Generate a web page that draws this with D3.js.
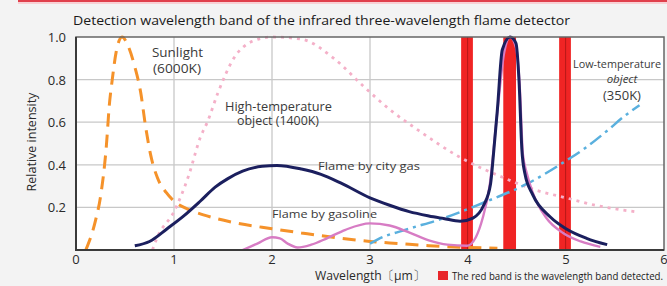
<!DOCTYPE html>
<html>
<head>
<meta charset="utf-8">
<script src="https://cdn.jsdelivr.net/npm/d3@7"></script>
<style>
  html, body { margin: 0; padding: 0; background: #f3f3f3; }
  svg { display: block; font-family: "Open Sans", sans-serif; }
</style>
</head>
<body>
<svg id="chart"></svg>
<script>
// Sunlight (6000K), orange dashed
const sunlight = [[0.1,0],[0.2,0.14],[0.25,0.25],[0.31,0.49],[0.34,0.68],[0.37,0.8],[0.41,0.93],[0.47,1.0],[0.53,0.96],[0.6,0.86],[0.66,0.74],[0.71,0.58],[0.76,0.45],[0.83,0.34],[0.92,0.27],[1.0,0.23],[1.15,0.19],[1.3,0.165],[1.6,0.13],[2.0,0.1],[2.3,0.08],[2.7,0.055],[3.0,0.04],[3.3,0.03],[3.6,0.02],[4.0,0.012],[4.3,0.008]];

// High-temperature object (1400K), pink dotted
const highTemp = [[0.78,0],[0.83,0.06],[1.0,0.18],[1.15,0.35],[1.27,0.53],[1.34,0.6],[1.45,0.74],[1.61,0.9],[1.8,0.98],[2.0,1.0],[2.3,0.99],[2.63,0.9],[2.93,0.77],[3.2,0.66],[3.5,0.56],[3.9,0.44],[4.36,0.34],[4.7,0.28],[5.0,0.245],[5.3,0.21],[5.7,0.18]];

// Low-temperature object (350K), blue dash-dot
const lowTemp = [[3.0,0.03],[3.08,0.05],[3.4,0.1],[3.69,0.14],[4.2,0.23],[4.6,0.31],[4.97,0.41],[5.2,0.48],[5.42,0.56],[5.6,0.63],[5.75,0.68]];

// Flame by gasoline
const gasoline = [[1.7,0],[1.85,0.03],[2.0,0.06],[2.08,0.055],[2.16,0.03],[2.26,0.012],[2.4,0.025],[2.56,0.055],[2.75,0.095],[3.0,0.125],[3.2,0.115],[3.41,0.08],[3.6,0.045],[3.79,0.025],[3.99,0.02],[4.08,0.06],[4.15,0.15],[4.22,0.3],[4.3,0.65],[4.37,0.93],[4.43,1.0],[4.49,0.95],[4.53,0.75],[4.56,0.45],[4.6,0.36],[4.66,0.27],[4.8,0.15],[4.97,0.08],[5.15,0.04],[5.35,0.015]];

// Flame by city gas
const cityGas = [[0.6,0.02],[0.75,0.04],[0.93,0.1],[1.1,0.16],[1.27,0.23],[1.42,0.295],[1.55,0.335],[1.7,0.37],[1.9,0.393],[2.05,0.397],[2.3,0.38],[2.5,0.355],[2.7,0.315],[3.0,0.245],[3.2,0.21],[3.4,0.18],[3.6,0.16],[3.75,0.148],[3.92,0.135],[4.05,0.15],[4.16,0.21],[4.23,0.31],[4.26,0.45],[4.3,0.66],[4.35,0.94],[4.43,1.0],[4.49,0.97],[4.52,0.8],[4.55,0.47],[4.58,0.36],[4.66,0.26],[4.84,0.155],[5.0,0.1],[5.21,0.055],[5.42,0.025]];

// detected bands (µm)
const bandStart = [3.93, 4.36, 4.93];
const bandEnd = [4.05, 4.49, 5.05];
const bandLine = [true, false, true];

const xTicks = [0, 1, 2, 3, 4, 5, 6];
const yTicks = [0.2, 0.4, 0.6, 0.8, 1.0];

const W = 667, H = 286;
const margin = { top: 37, right: 3, bottom: 36, left: 76 };

const svg = d3.select("#chart").attr("width", W).attr("height", H);

// page background + red top rule
svg.append("rect").attr("width", W).attr("height", H).attr("fill", "#f3f3f3");
svg.append("rect").attr("x", 18).attr("y", 0).attr("width", W - 18).attr("height", 2).attr("fill", "#e0404c");
svg.append("rect").attr("x", 18).attr("y", 2).attr("width", W - 18).attr("height", 2).attr("fill", "#f8d0d4");

const x = d3.scaleLinear().domain([0, 6]).range([margin.left, W - margin.right]);
const y = d3.scaleLinear().domain([0, 1]).range([H - margin.bottom, margin.top]);

// plot area
svg.append("rect")
  .attr("x", x(0)).attr("y", y(1))
  .attr("width", x(6) - x(0)).attr("height", y(0) - y(1))
  .attr("fill", "#fff");

// grid
svg.append("g").selectAll("line")
  .data(xTicks.slice(1, -1))
  .join("line")
  .attr("x1", d => x(d)).attr("x2", d => x(d))
  .attr("y1", y(0)).attr("y2", y(1))
  .attr("stroke", "#c8c8c8").attr("stroke-width", 1.3);
svg.append("g").selectAll("line")
  .data(yTicks.slice(0, -1))
  .join("line")
  .attr("x1", x(0)).attr("x2", x(6))
  .attr("y1", d => y(d)).attr("y2", d => y(d))
  .attr("stroke", "#c8c8c8").attr("stroke-width", 1.3);

// red bands
const bands = svg.append("g");
bands.selectAll("rect")
  .data(bandStart)
  .join("rect")
  .attr("x", d => x(d))
  .attr("y", y(1))
  .attr("width", (d, i) => x(bandEnd[i]) - x(d))
  .attr("height", y(0) - y(1))
  .attr("fill", "#f02424");
bands.selectAll("line")
  .data(bandStart.filter((d, i) => bandLine[i]))
  .join("line")
  .attr("x1", d => x(d) + (x(bandEnd[0]) - x(bandStart[0])) * 0.55)
  .attr("x2", d => x(d) + (x(bandEnd[0]) - x(bandStart[0])) * 0.55)
  .attr("y1", y(1)).attr("y2", y(0))
  .attr("stroke", "#b81818").attr("stroke-width", 1);

const line = d3.line()
  .x(d => x(d[0]))
  .y(d => y(d[1]))
  .curve(d3.curveMonotoneX);

function drawSeries(data, color, width, dash) {
  svg.append("path")
    .datum(data)
    .attr("d", line)
    .attr("fill", "none")
    .attr("stroke", color)
    .attr("stroke-width", width)
    .attr("stroke-linecap", "butt")
    .attr("stroke-dasharray", dash);
}

drawSeries(highTemp, "#f4b0c8", 2.8, "3,5");
drawSeries(sunlight, "#f5922a", 3, "13,8");
drawSeries(lowTemp, "#5ab0de", 2.5, "14,5,3,5");
drawSeries(gasoline, "#d77cc4", 2.4, null);
drawSeries(cityGas, "#1b1f5e", 3, null);

// frame
svg.append("rect")
  .attr("x", x(0)).attr("y", y(1))
  .attr("width", x(6) - x(0)).attr("height", y(0) - y(1))
  .attr("fill", "none").attr("stroke", "#666").attr("stroke-width", 1.5);
svg.append("path")
  .attr("d", `M${x(0)},${y(1)}V${y(0)}H${x(6)}`)
  .attr("fill", "none").attr("stroke", "#3a3a3a").attr("stroke-width", 2);

// axes text
svg.append("g").selectAll("text")
  .data(yTicks)
  .join("text")
  .attr("x", 66).attr("y", d => y(d) + 5)
  .attr("text-anchor", "end")
  .attr("font-size", 13).attr("fill", "#2a2a2a")
  .text(d => d.toFixed(1));
svg.append("g").selectAll("text")
  .data(xTicks)
  .join("text")
  .attr("x", d => x(d)).attr("y", 264)
  .attr("text-anchor", "middle")
  .attr("font-size", 13).attr("fill", "#2a2a2a")
  .text(d => d);

svg.append("text")
  .attr("transform", "translate(36,142) rotate(-90)")
  .attr("text-anchor", "middle")
  .attr("font-size", 12.5).attr("fill", "#2a2a2a")
  .text("Relative intensity");

svg.append("text")
  .attr("x", 315).attr("y", 280)
  .attr("font-size", 13).attr("fill", "#2a2a2a")
  .attr("textLength", 110).attr("lengthAdjust", "spacingAndGlyphs")
  .text("Wavelength〔μm〕");
svg.append("rect").attr("x", 438).attr("y", 271).attr("width", 10).attr("height", 9).attr("fill", "#e8262a");
svg.append("text")
  .attr("x", 452).attr("y", 280)
  .attr("font-size", 11.5).attr("fill", "#1a1a1a")
  .attr("textLength", 211).attr("lengthAdjust", "spacingAndGlyphs")
  .text("The red band is the wavelength band detected.");

// title
svg.append("text")
  .attr("x", 73).attr("y", 25)
  .attr("font-size", 13.5).attr("fill", "#1a1a1a")
  .attr("textLength", 497).attr("lengthAdjust", "spacingAndGlyphs")
  .text("Detection wavelength band of the infrared three-wavelength flame detector");

// series labels
function label(tx, ty, str, size, len, extra) {
  const t = svg.append("text")
    .attr("x", tx).attr("y", ty)
    .attr("font-size", size).attr("fill", "#3a3a3a")
    .text(str);
  if (len) t.attr("textLength", len).attr("lengthAdjust", "spacingAndGlyphs");
  if (extra) extra(t);
  return t;
}
label(152, 57, "Sunlight", 13, 51);
label(153, 73, "(6000K)", 13, 48);
label(225, 111, "High-temperature", 13, 107);
label(237, 125, "object (1400K)", 12.5, 82);
label(318, 170, "Flame by city gas", 11.5, 102);
label(272, 218, "Flame by gasoline", 11.5, 105);
label(573, 68, "Low-temperature", 11, 88);
label(622, 83, "object", 11.5, null, t => t.attr("text-anchor", "middle").attr("font-style", "italic"));
label(622, 100, "(350K)", 13, null, t => t.attr("text-anchor", "middle"));
</script>
</body>
</html>
